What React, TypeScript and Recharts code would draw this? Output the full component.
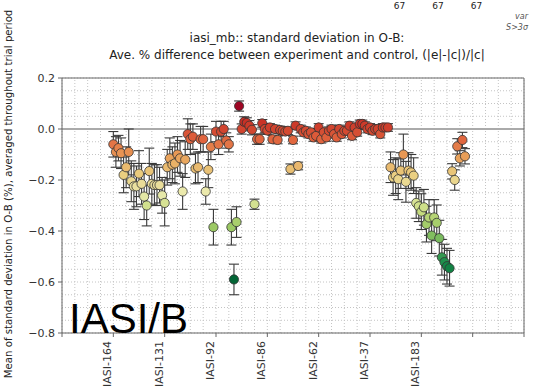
import { ScatterChart, Scatter, XAxis, YAxis, ErrorBar, ReferenceLine } from "recharts";

// channel groups: first x position + per-channel values / error half-widths
const groupAStart = 20;
const groupAValues = [
  -0.06, -0.09, -0.075, -0.095, -0.18, -0.15, -0.09, -0.205, -0.225, -0.225,
  -0.175, -0.215, -0.265, -0.3, -0.165, -0.215, -0.22, -0.22, -0.22, -0.26,
  -0.29, -0.15, -0.115, -0.14, -0.135, -0.1, -0.115, -0.245, -0.12, -0.02,
  -0.04, -0.03, -0.155, -0.15, -0.04, -0.04, -0.245, -0.16, -0.07, -0.385,
  -0.01, -0.06, -0.01, 0.0, -0.045, -0.06, -0.385, -0.59, -0.365,
];
const groupAErrors = [
  0.05, 0.06, 0.05, 0.06, 0.07, 0.08, 0.09, 0.08, 0.09, 0.08,
  0.09, 0.08, 0.09, 0.08, 0.09, 0.08, 0.08, 0.08, 0.07, 0.07,
  0.09, 0.07, 0.08, 0.07, 0.08, 0.07, 0.07, 0.07, 0.07, 0.06,
  0.06, 0.05, 0.06, 0.06, 0.05, 0.05, 0.05, 0.07, 0.05, 0.07,
  0.04, 0.04, 0.04, 0.03, 0.03, 0.03, 0.07, 0.06, 0.06,
];

const groupBStart = 69;
const groupBValues = [
  0.09, 0.0, 0.028, 0.024, 0.013, -0.003, -0.295, -0.04, -0.04, 0.022,
  0.0, -0.006, 0.006, -0.04, 0.0, -0.043, -0.004, -0.007, -0.01, -0.007,
  -0.157, -0.043, 0.013, -0.145, 0.0, -0.013, -0.007, -0.02, -0.013, -0.033,
  -0.027, 0.006, -0.04, -0.013, -0.033, -0.007, 0.0, -0.02, -0.033, 0.0,
  -0.02, -0.007, -0.007, 0.013, -0.027, 0.006, -0.013, 0.02, 0.02, 0.013,
  0.0, 0.006, -0.007, 0.0, 0.0, -0.02, 0.006, 0.006, 0.006,
];
const groupBErrors = [
  0.02, 0.02, 0.02, 0.02, 0.02, 0.02, 0.02, 0.02, 0.02, 0.015,
  0.015, 0.015, 0.015, 0.015, 0.015, 0.015, 0.015, 0.015, 0.015, 0.015,
  0.02, 0.015, 0.015, 0.015, 0.015, 0.015, 0.015, 0.015, 0.015, 0.015,
  0.015, 0.015, 0.015, 0.015, 0.015, 0.015, 0.015, 0.015, 0.015, 0.015,
  0.015, 0.015, 0.015, 0.015, 0.015, 0.015, 0.015, 0.015, 0.015, 0.015,
  0.015, 0.015, 0.015, 0.015, 0.015, 0.015, 0.015, 0.015, 0.015,
];

const groupCStart = 128;
const groupCValues = [
  -0.15, -0.19, -0.183, -0.197, -0.163, -0.1, -0.207, -0.163, -0.17, -0.183,
  -0.29, -0.303, -0.324, -0.307, -0.373, -0.347, -0.418, -0.347, -0.368, -0.428,
  -0.503, -0.522, -0.538, -0.546,
];
const groupCErrors = [
  0.06, 0.07, 0.07, 0.08, 0.07, 0.08, 0.08, 0.07, 0.07, 0.07,
  0.06, 0.06, 0.07, 0.07, 0.07, 0.07, 0.07, 0.07, 0.07, 0.07,
  0.07, 0.07, 0.07, 0.07,
];

const groupDStart = 152;
const groupDValues = [-0.166, -0.2, -0.068, -0.115, -0.043, -0.107];
const groupDErrors = [0.03, 0.04, 0.03, 0.03, 0.03, 0.03];

const xMajorTicks = [0, 20, 40, 60, 80, 100, 120, 140, 160, 180];
const xTickLabels: Record<number, string> = {
  20: "IASI-164",
  40: "IASI-131",
  60: "IASI-92",
  80: "IASI-86",
  100: "IASI-62",
  120: "IASI-37",
  140: "IASI-183",
};
const xGrid = [
  0, 5, 10, 15, 20, 25, 30, 35, 40, 45, 50, 55, 60, 65, 70, 75, 80, 85, 90,
  95, 100, 105, 110, 115, 120, 125, 130, 135, 140, 145, 150, 155, 160, 165,
  170, 175, 180,
];
const yTicks = [0.2, 0, -0.2, -0.4, -0.6, -0.8];
const yGrid = [
  0.2, 0.15, 0.1, 0.05, 0, -0.05, -0.1, -0.15, -0.2, -0.25, -0.3, -0.35, -0.4,
  -0.45, -0.5, -0.55, -0.6, -0.65, -0.7, -0.75, -0.8,
];

// RdYlGn, reversed: high values red, low values green
const RDYLGN = [
  "#a50026", "#d73027", "#f46d43", "#fdae61", "#fee08b", "#ffffbf",
  "#d9ef8b", "#a6d96a", "#66bd63", "#1a9850", "#006837",
];

function hexToRgb(h: string) {
  return [1, 3, 5].map((i) => parseInt(h.slice(i, i + 2), 16));
}

function colorFor(v: number) {
  let t = (0.1 - v) / 0.7;
  t = Math.max(0, Math.min(1, t)) * (RDYLGN.length - 1);
  const i = Math.min(Math.floor(t), RDYLGN.length - 2);
  const f = t - i;
  const a = hexToRgb(RDYLGN[i]);
  const b = hexToRgb(RDYLGN[i + 1]);
  // slightly muted, like the reference markers
  const c = a.map((ch, k) => Math.round((ch + (b[k] - ch) * f) * 0.92));
  return `rgb(${c[0]},${c[1]},${c[2]})`;
}

function build(start: number, values: number[], errors: number[]) {
  return values.map((v, i) => ({ x: start + i, v, err: errors[i] }));
}

const points = [
  ...build(groupAStart, groupAValues, groupAErrors),
  ...build(groupBStart, groupBValues, groupBErrors),
  ...build(groupCStart, groupCValues, groupCErrors),
  ...build(groupDStart, groupDValues, groupDErrors),
];

const FONT = "DejaVu Sans, sans-serif";
const fmtY = (v: number) => (v < 0 ? "\u2212" + Math.abs(v).toFixed(1) : v.toFixed(1));

const Marker = (p: any) => (
  <circle cx={p.cx} cy={p.cy} r={4.6} fill={colorFor(p.payload.v)} stroke="#333" strokeWidth={0.8} />
);

const XTick = ({ x, y, payload }: any) => {
  const label = xTickLabels[payload.value];
  if (!label) return <g />;
  return (
    <text
      transform={`translate(${x - 2},${y + 2}) rotate(-90)`}
      textAnchor="end"
      fontSize={11}
      fontFamily={FONT}
      fill="#333"
    >
      {label}
    </text>
  );
};

const Empty = () => <g />;

export default function App() {
  return (
    <div style={{ position: "absolute", left: 0, top: 0, width: 533, height: 389, background: "#fff" }}>
      <ScatterChart
        width={533}
        height={389}
        margin={{ top: 78, right: 9, bottom: 0, left: 22 }}
      >
        {xGrid.map((g) => (
          <ReferenceLine key={"gx" + g} x={g} stroke="#c4c4c4" strokeDasharray="1 2" />
        ))}
        {yGrid.map((g) => (
          <ReferenceLine key={"gy" + g} y={g} stroke="#c4c4c4" strokeDasharray="1 2" />
        ))}
        <ReferenceLine y={0} stroke="#aaa" strokeWidth={2} />
        <ReferenceLine y={0.2} stroke="#666" />
        <ReferenceLine x={180} stroke="#666" />
        <XAxis
          type="number"
          dataKey="x"
          domain={[0, 180]}
          ticks={xMajorTicks}
          interval={0}
          height={56}
          tickSize={4}
          tickMargin={2}
          stroke="#666"
          tick={<XTick />}
        />
        <XAxis
          xAxisId="top"
          orientation="top"
          type="number"
          domain={[0, 180]}
          ticks={xMajorTicks}
          height={0}
          mirror
          tickSize={4}
          stroke="#666"
          tick={<Empty />}
        />
        <YAxis
          type="number"
          dataKey="v"
          domain={[-0.8, 0.2]}
          ticks={yTicks}
          interval={0}
          width={40}
          tickSize={4}
          tickMargin={3}
          stroke="#666"
          tickFormatter={fmtY}
          tick={{ fontSize: 11, fontFamily: FONT, fill: "#333" }}
          allowDataOverflow
        />
        <YAxis
          yAxisId="right"
          orientation="right"
          type="number"
          domain={[-0.8, 0.2]}
          ticks={yTicks}
          width={0}
          mirror
          tickSize={4}
          stroke="#666"
          tick={<Empty />}
        />
        <Scatter data={points} shape={Marker} isAnimationActive={false}>
          <ErrorBar dataKey="err" direction="y" width={5} stroke="#3a3a3a" strokeWidth={1.1} />
        </Scatter>
      </ScatterChart>

      <svg
        width={533}
        height={389}
        style={{ position: "absolute", left: 0, top: 0, pointerEvents: "none" }}
      >
        <text x={297} y={42} textAnchor="middle" fontSize={12} fontFamily={FONT} fill="#222">
          iasi_mb:: standard deviation in O-B:
        </text>
        <text x={297} y={59} textAnchor="middle" fontSize={12} fontFamily={FONT} fill="#222">
          Ave. % difference between experiment and control, (|e|-|c|)/|c|
        </text>
        <text x={438} y={9} textAnchor="middle" fontSize={9} fontFamily={FONT} fill="#222">
          67{"\u2003\u2003\u2003"}67{"\u2003\u2003\u2003"}67
        </text>
        <text x={528} y={19} textAnchor="end" fontSize={8} fontStyle="italic" fontFamily={FONT} fill="#555">
          var
        </text>
        <text x={528} y={30} textAnchor="end" fontSize={8} fontStyle="italic" fontFamily={FONT} fill="#555">
          S&gt;3σ
        </text>
        <text
          transform="translate(12,194) rotate(-90)"
          textAnchor="middle"
          fontSize={10.2}
          fontFamily={FONT}
          fill="#222"
        >
          Mean of standard deviation in O-B (%), averaged throughout trial period
        </text>
        <text x={69} y={333} fontSize={42} fontFamily="Liberation Sans, Arial, sans-serif" fill="#000">
          IASI/B
        </text>
      </svg>
    </div>
  );
}
